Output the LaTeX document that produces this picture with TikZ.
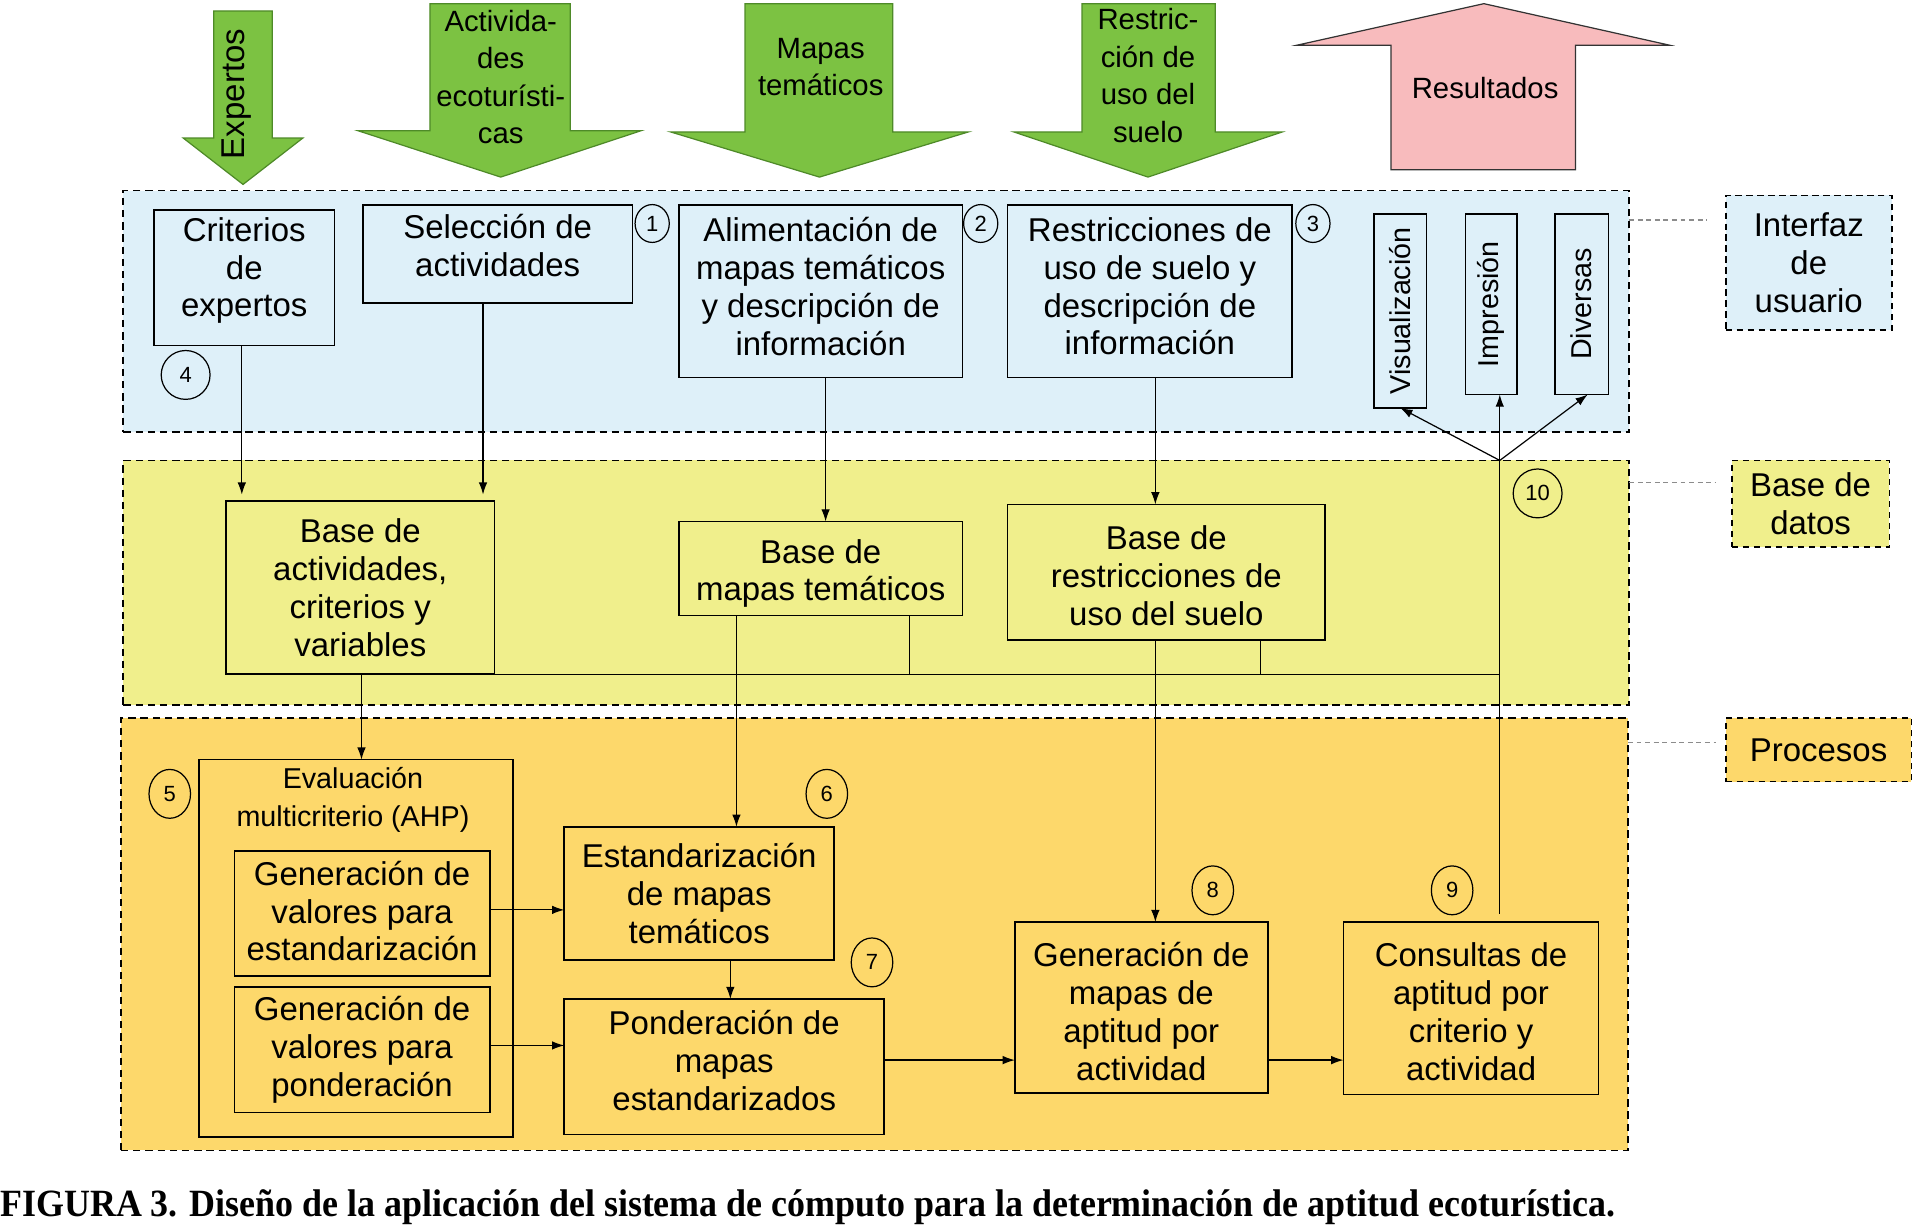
\documentclass[tikz,border=0pt]{standalone}
\usepackage{fontspec}
\setmainfont{Liberation Sans}
\newfontfamily\capfont{Liberation Serif}
\usetikzlibrary{arrows.meta,shapes.geometric}
\definecolor{bandblue}{RGB}{222,240,249}
\definecolor{bandyellow}{RGB}{240,239,140}
\definecolor{bandorange}{RGB}{253,216,107}
\definecolor{arrgreen}{RGB}{124,194,66}
\definecolor{arrgreenedge}{RGB}{78,138,40}
\definecolor{arrpink}{RGB}{248,187,189}
\newcommand\mainfs{\fontsize{27}{31}\selectfont}
\newcommand\smallfs{\fontsize{23.5}{31}\selectfont}
\newcommand\arrfs{\fontsize{24}{30.7}\selectfont}
\newcommand\numfs{\fontsize{18}{20}\selectfont}
\tikzset{
  band/.style={draw=black, line width=1.4pt, dash pattern=on 6pt off 4pt, inner sep=0pt, outer sep=0pt},
  lblbox/.style={draw=black, line width=1.4pt, dash pattern=on 5pt off 4pt, inner sep=0pt, outer sep=0pt, align=center, font=\mainfs},
  box/.style={draw=black, line width=1.3pt, inner sep=0pt, outer sep=0pt},
  txt/.style={inner sep=0pt, align=center, font=\mainfs},
  numc/.style={draw=black, line width=1pt, ellipse, inner sep=0pt, font=\numfs},
  conn/.style={line width=1pt},
  arr/.style={conn, -{Latex[length=10pt,width=7pt]}},
  gconn/.style={draw=gray!90, line width=1.3pt, dash pattern=on 4pt off 3pt},
  garrow/.style={fill=arrgreen, draw=arrgreenedge, line width=1pt},
  parrow/.style={fill=arrpink, draw=black!80, line width=1pt},
  arrtxt/.style={align=center, font=\arrfs, inner sep=0pt}
}
\begin{document}
\begin{tikzpicture}[x=1pt,y=-1pt]
\useasboundingbox (0,0) rectangle (1568,1004);

% bands
\node[band, fill=bandblue, minimum width=1233pt, minimum height=198pt] (ui) at (717.5,255) {};
\node[band, fill=bandyellow, minimum width=1233pt, minimum height=200pt] (db) at (717.5,477) {};
\node[band, fill=bandorange, minimum width=1234pt, minimum height=354pt] (pr) at (716,765) {};

% right labels
\node[lblbox, fill=bandblue, minimum width=136pt, minimum height=110pt] (lui) at (1481,215) {Interfaz\\de\\usuario};
\node[lblbox, fill=bandyellow, minimum width=129pt, minimum height=71pt] (ldb) at (1482.5,412.5) {Base de\\datos};
\node[lblbox, fill=bandorange, minimum width=152pt, minimum height=52pt] (lpr) at (1489,614) {Procesos};
\coordinate (e1) at (1398,180);
\coordinate (e2) at (1405,395);
\coordinate (e3) at (1405,608);
\draw[gconn] (ui.east |- e1) -- (e1);
\draw[gconn] (db.east |- e2) -- (e2);
\draw[gconn] (pr.east |- e3) -- (e3);

% top arrows
\draw[garrow] (175,9) -- (223,9) -- (223,113) -- (248,113) -- (199,151) -- (150,113) -- (175,113) -- cycle;
\draw[garrow] (352,3) -- (467,3) -- (467,107) -- (525,107) -- (410,145) -- (293,107) -- (352,107) -- cycle;
\draw[garrow] (610,3) -- (731,3) -- (731,108) -- (793,108) -- (671,145) -- (549,108) -- (610,108) -- cycle;
\draw[garrow] (886,3) -- (995,3) -- (995,108) -- (1050,108) -- (940,145) -- (830,108) -- (886,108) -- cycle;
\draw[parrow] (1139,139) -- (1139,37) -- (1062,37) -- (1215,3) -- (1367,37) -- (1290,37) -- (1290,139) -- cycle;
\node[inner sep=0pt, font=\fontsize{27}{30}\selectfont] (texp) at (194,77) {\rotatebox{90}{Expertos}};
\node[arrtxt] (tact) at (410,63) {Activida-\\des\\ecoturísti-\\cas};
\node[arrtxt] (tmap) at (672,55) {Mapas\\temáticos};
\node[arrtxt] (tres) at (940,62) {Restric-\\ción de\\uso del\\suelo};
\node[arrtxt] (tresu) at (1216,72) {Resultados};

% interface boxes
\node[box, fill=bandblue, minimum width=148pt, minimum height=111pt] (crit) at (200,227.5) {};
\node[txt] (crittxt) at ([yshift=6pt]crit.center) {Criterios\\de\\expertos};
\node[box, fill=bandblue, minimum width=221pt, minimum height=80pt] (sel) at (407.5,208) {};
\node[txt] (seltxt) at ([yshift=7pt]sel.center) {Selección de\\actividades};
\node[box, fill=bandblue, minimum width=232pt, minimum height=141pt] (alim) at (672,238.5) {};
\node[txt] (alimtxt) at ([yshift=4pt]alim.center) {Alimentación de\\mapas temáticos\\y descripción de\\información};
\node[box, fill=bandblue, minimum width=233pt, minimum height=141pt] (rest) at (941.5,238.5) {};
\node[txt] (resttxt) at ([yshift=4pt]rest.center) {Restricciones de\\uso de suelo y\\descripción de\\información};
\node[box, fill=bandblue, minimum width=43pt, minimum height=159pt, font=\fontsize{23.5}{28}\selectfont] (vis) at (1146.5,254.5) {\rotatebox{90}{Visualización}};
\node[box, fill=bandblue, minimum width=42pt, minimum height=148pt, font=\fontsize{23.5}{28}\selectfont] (imp) at (1221,249) {\rotatebox{90}{Impresión}};
\node[box, fill=bandblue, minimum width=44pt, minimum height=148pt, font=\fontsize{23.5}{28}\selectfont] (div) at (1295,249) {\rotatebox{90}{Diversas}};
\node[numc, minimum width=28pt, minimum height=31pt] (n1) at (534,183) {1};
\node[numc, minimum width=28pt, minimum height=31pt] (n2) at (803,183) {2};
\node[numc, minimum width=28pt, minimum height=31pt] (n3) at (1075,183) {3};
\node[numc, minimum width=40pt, minimum height=40pt] (n4) at (152,307) {4};

% database boxes
\node[box, fill=bandyellow, minimum width=220pt, minimum height=142pt] (bact) at (295,481) {};
\node[txt] (bacttxt) at (bact.center) {Base de\\actividades,\\criterios y\\variables};
\node[box, fill=bandyellow, minimum width=232pt, minimum height=77pt] (bmap) at (672,465.5) {};
\node[txt] (bmaptxt) at ([yshift=-4pt]bmap.center) {Base de\\mapas temáticos};
\node[box, fill=bandyellow, minimum width=260pt, minimum height=111pt] (brest) at (955,468.5) {};
\node[txt] (bresttxt) at ([yshift=-3pt]brest.center) {Base de\\restricciones de\\uso del suelo};
\node[numc, minimum width=40pt, minimum height=40pt] (n10) at (1259,404) {10};

% process boxes
\node[box, fill=bandorange, minimum width=257pt, minimum height=309pt] (eval) at (291.5,776.5) {};
\node[inner sep=0pt, align=center, font=\smallfs] (evaltxt) at (289,655) {Evaluación\\multicriterio (AHP)};
\node[box, fill=bandorange, minimum width=209pt, minimum height=102pt] (genest) at (296.5,748) {};
\node[txt] (genesttxt) at ([yshift=2pt]genest.center) {Generación de\\valores para\\estandarización};
\node[box, fill=bandorange, minimum width=209pt, minimum height=103pt] (genpond) at (296.5,859.5) {};
\node[txt] (genpondtxt) at (genpond.center) {Generación de\\valores para\\ponderación};
\node[box, fill=bandorange, minimum width=221pt, minimum height=109pt] (est) at (572.5,731.5) {};
\node[txt] (esttxt) at (est.center) {Estandarización\\de mapas\\temáticos};
\node[box, fill=bandorange, minimum width=262pt, minimum height=111pt] (pond) at (593,873.5) {};
\node[txt] (pondtxt) at ([yshift=5pt]pond.center) {Ponderación de\\mapas\\estandarizados};
\node[box, fill=bandorange, minimum width=207pt, minimum height=140pt] (gen) at (934.5,825) {};
\node[txt] (gentxt) at ([yshift=-3pt]gen.center) {Generación de\\mapas de\\aptitud por\\actividad};
\node[box, fill=bandorange, minimum width=209pt, minimum height=141pt] (cons) at (1204.5,825.5) {};
\node[txt] (constxt) at ([yshift=-3pt]cons.center) {Consultas de\\aptitud por\\criterio y\\actividad};
\node[numc, minimum width=34pt, minimum height=40pt] (n5) at (139,650) {5};
\node[numc, minimum width=34pt, minimum height=40pt] (n6) at (677,650) {6};
\node[numc, minimum width=34pt, minimum height=40pt] (n7) at (714,788) {7};
\node[numc, minimum width=34pt, minimum height=40pt] (n8) at (993,729) {8};
\node[numc, minimum width=34pt, minimum height=40pt] (n9) at (1189,729) {9};

% connectors interface -> database
\draw[arr, shorten >=5pt] ([xshift=-2pt]crit.south) -- ([xshift=-2pt]crit.south |- bact.north);
\draw[arr, shorten >=5pt] ([xshift=-12pt]sel.south) -- ([xshift=-12pt]sel.south |- bact.north);
\draw[arr] ([xshift=4pt]alim.south) -- ([xshift=4pt]alim.south |- bmap.north);
\draw[arr] ([xshift=4.5pt]rest.south) -- ([xshift=4.5pt]rest.south |- brest.north);

% junction and outputs
\coordinate (j) at (1228,377);
\draw[conn] (bact.south east) -- (bact.south east -| j);
\draw[conn] ([xshift=73pt]bmap.south) -- ([xshift=73pt]bmap.south |- bact.south);
\draw[conn] ([xshift=77pt]brest.south) -- ([xshift=77pt]brest.south |- bact.south);
\draw[conn, shorten >=7pt] (j) -- ([xshift=23.5pt]cons.north);
\draw[arr] (j) -- (vis.south);
\draw[arr] (j) -- (imp.south -| j);
\draw[arr] (j) -- ([xshift=5pt]div.south);

% database -> processes
\draw[arr] ([xshift=1pt]bact.south) -- ([xshift=1pt]bact.south |- eval.north);
\draw[arr] ([xshift=-69pt]bmap.south) -- ([xshift=-69pt]bmap.south |- est.north);
\draw[arr] ([xshift=-9pt]brest.south) -- ([xshift=-9pt]brest.south |- gen.north);

% processes
\draw[arr] ([yshift=3pt]genest.east) -- ([yshift=3pt]genest.east -| est.west);
\draw[arr] ([yshift=3.5pt]genpond.east) -- ([yshift=3.5pt]genpond.east -| pond.west);
\draw[arr] ([xshift=25.5pt]est.south) -- ([xshift=25.5pt]est.south |- pond.north);
\draw[arr] ([yshift=5.5pt]pond.east) -- ([yshift=5.5pt]pond.east -| gen.west);
\draw[arr] ([yshift=-43pt]gen.east) -- ([yshift=-43pt]gen.east -| cons.west);

% caption
\node[anchor=base west, inner sep=0pt] (cap) at (0,996) {\resizebox{1322pt}{22pt}{\capfont\bfseries FIGURA 3. Diseño de la aplicación del sistema de cómputo para la determinación de aptitud ecoturística.}};
\end{tikzpicture}
\end{document}
